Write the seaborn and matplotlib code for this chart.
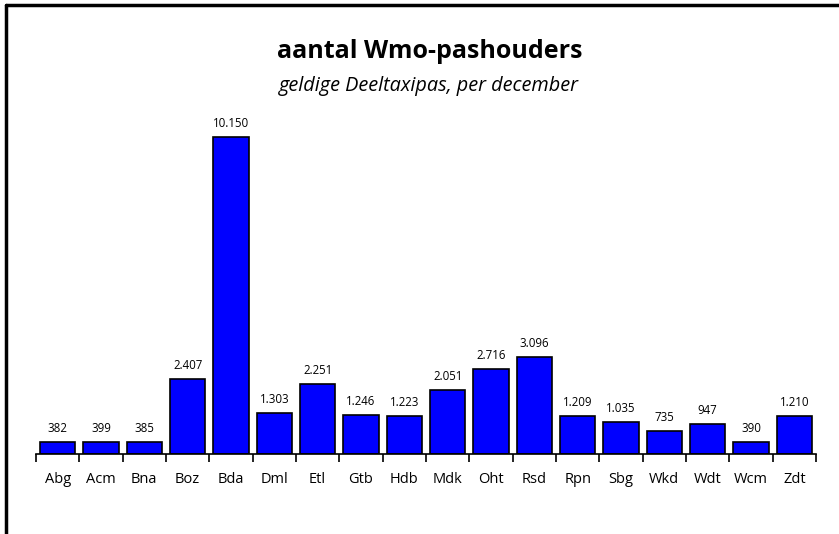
import pandas as pd
import matplotlib
matplotlib.use("Agg")
import matplotlib.pyplot as plt
import seaborn as sns
from matplotlib.lines import Line2D

# Wmo-pashouders per kern
kernen = ["Abg", "Acm", "Bna", "Boz", "Bda", "Dml", "Etl", "Gtb", "Hdb",
          "Mdk", "Oht", "Rsd", "Rpn", "Sbg", "Wkd", "Wdt", "Wcm", "Zdt"]
aantal = [382, 399, 385, 2407, 10150, 1303, 2251, 1246, 1223,
          2051, 2716, 3096, 1209, 1035, 735, 947, 390, 1210]

df = pd.DataFrame({"kern": kernen, "aantal": aantal})

sns.set_style("white")
plt.rcParams['font.family'] = ['Open Sans', 'DejaVu Sans']
plt.rcParams['text.color'] = 'black'
plt.rcParams['xtick.color'] = 'black'

fig = plt.figure(figsize=(8.39, 5.34), dpi=100)
ax = fig.add_axes([36 / 839, 1 - 454 / 534, 780 / 839, 354 / 534])

sns.barplot(data=df, x="kern", y="aantal", color="#0000FF", saturation=1,
            width=0.82, edgecolor="black", linewidth=1.2, ax=ax)

ax.set_xlim(-0.5, len(kernen) - 0.5)
ax.set_ylim(0, 10150 * 354 / 317)

for i, v in enumerate(aantal):
    lbl = f"{v:,}".replace(",", ".")
    ax.annotate(lbl, (i, v), xytext=(0, 5), textcoords="offset points",
                ha="center", va="bottom", fontsize=8.3, color="black")

for s in ["top", "right", "left"]:
    ax.spines[s].set_visible(False)
ax.spines["bottom"].set_color("black")
ax.spines["bottom"].set_linewidth(1.2)
ax.set_yticks([])
ax.set_xlabel("")
ax.set_ylabel("")
ax.set_xticks([i - 0.5 for i in range(len(kernen) + 1)], minor=True)
ax.tick_params(axis="x", which="minor", length=6, width=1.2, color="black", bottom=True)
ax.tick_params(axis="x", which="major", length=0, labelsize=10.5, pad=13,
               labelcolor="black")

fig.text(0.512, 1 - 52 / 534, "aantal Wmo-pashouders", ha="center", va="center",
         fontsize=18, fontweight="bold", color="black")
fig.text(0.511, 1 - 86 / 534, "geldige Deeltaxipas, per december", ha="center",
         va="center", fontsize=14.3, style="italic", color="black")

# kader links en boven
fig.add_artist(Line2D([6 / 839, 6 / 839], [0, 1 - 5 / 534], color="black", lw=2.5))
fig.add_artist(Line2D([6 / 839, 1], [1 - 5 / 534, 1 - 5 / 534], color="black", lw=2.5))

plt.savefig("out.png", dpi=100)
